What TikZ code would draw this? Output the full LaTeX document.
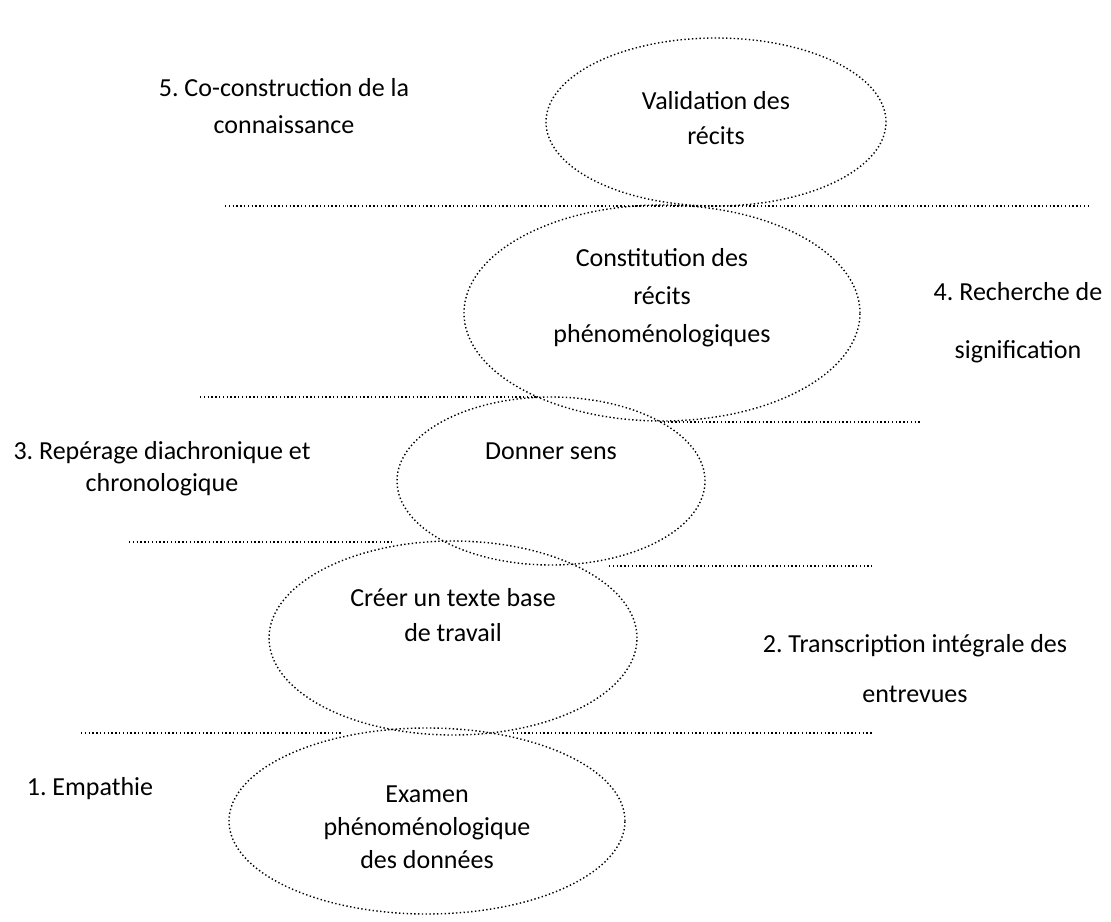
\documentclass[tikz,border=0pt]{standalone}
\usepackage{fontspec}
\setmainfont{Carlito}
\usetikzlibrary{shapes.geometric}
\newcommand\myfs[1]{\fontsize{26}{#1}\selectfont}
\frenchspacing
\tikzset{
  dots/.style={line width=1.4pt, dash pattern=on 1.4pt off 2.4pt},
  ell/.style={draw, ellipse, dots, inner sep=0pt},
  txt/.style={align=center, inner sep=0pt},
}
\begin{document}
\begin{tikzpicture}[x=1pt,y=-1pt]
\useasboundingbox (0,0) rectangle (1111,921);
% ellipses
\node[ell, minimum width=340, minimum height=168] (e5) at (716,122) {};
\node[ell, minimum width=396, minimum height=216] (e4) at (662,313) {};
\node[ell, minimum width=308, minimum height=168] (e3) at (551,481) {};
\node[ell, minimum width=368, minimum height=194] (e2) at (453,638) {};
\node[ell, minimum width=396, minimum height=186] (e1) at (427,821) {};
% horizontal dotted lines
\draw[dots] (225,206) -- (1088,206);
\draw[dots] (200,397) -- (537,397);
\draw[dots] (660,422) -- (920,422);
\draw[dots] (129,542) -- (392,542);
\draw[dots] (609,566) -- (872,566);
\draw[dots] (81,733) -- (343,733);
\draw[dots] (513,733) -- (872,733);
% ellipse texts
\node[txt, font=\myfs{35}] (t5) at (716,118) {Validation des\\récits};
\node[txt, font=\myfs{38}] (t4) at (662,298) {Constitution des\\récits\\phénoménologiques};
\node[txt, font=\myfs{33}, anchor=base] (t3) at (551,459) {Donner sens};
\node[txt, font=\myfs{35}] (t2) at (453,615) {Créer un texte base\\de travail};
\node[txt, font=\myfs{33}] (t1) at (427,827) {Examen\\phénoménologique\\des données};
% side labels
\node[txt, font=\myfs{37}] (s5) at (284,106) {5. Co-construction de la\\connaissance};
\node[txt, font=\myfs{58}] (s4) at (1018,323) {4. Recherche de\\signification};
\node[txt, font=\myfs{32}] (s3) at (162,469) {3. Repérage diachronique et\\chronologique};
\node[txt, font=\myfs{50}] (s2) at (915,669) {2. Transcription intégrale des\\entrevues};
\node[txt, font=\myfs{33}, anchor=base] (s1) at (90,795) {1. Empathie};
\end{tikzpicture}
\end{document}
